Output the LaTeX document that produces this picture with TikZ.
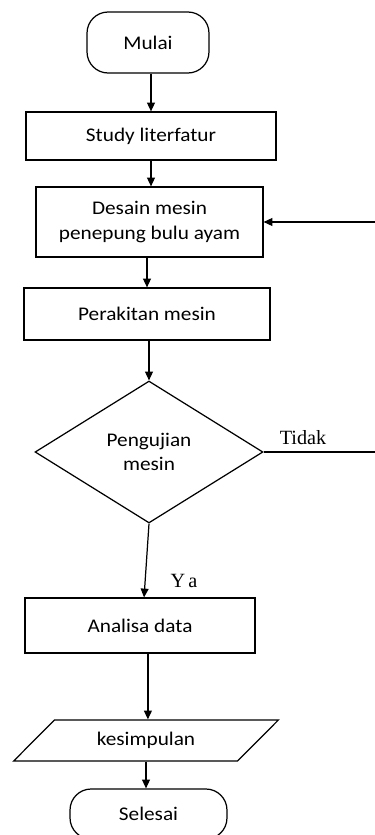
\documentclass[tikz,border=0pt]{standalone}
\usepackage{fontspec}
\setmainfont{Carlito}[FakeStretch=1.1]
\newfontfamily\tnr{Liberation Serif}
\usepackage{tikz}
\usetikzlibrary{arrows.meta, shapes.geometric}
\tikzset{>={Triangle[length=5pt,width=4.5pt]}}

\begin{document}
\begin{tikzpicture}[x=0.02cm, y=-0.02cm, line width=0.7pt,
    font=\fontsize{11}{14}\selectfont,
    term/.style={draw, rectangle, rounded corners=12pt, inner sep=0pt},
    proc/.style={draw, rectangle, align=center, inner sep=0pt},
    dec/.style={draw, diamond, align=center, inner sep=0pt},
    io/.style={draw, trapezium, trapezium left angle=37, trapezium right angle=143,
               trapezium stretches=true, inner sep=0pt},
    lbl/.style={font=\tnr\fontsize{11.5}{13}\selectfont}]

            \useasboundingbox (0,0) rectangle (375,835);

            \node[term, minimum width=2.44cm, minimum height=1.22cm] (M) at (148,42.5) {Mulai};
            \node[proc, minimum width=5cm, minimum height=0.96cm] (L) at (151,136) {Study literfatur};
            \node[proc, minimum width=4.54cm, minimum height=1.4cm] (D) at (149.5,222) {Desain mesin\\penepung bulu ayam};
            \node[proc, minimum width=4.92cm, minimum height=1.04cm] (R) at (147,314) {Perakitan mesin};
            \node[dec, minimum width=4.56cm, minimum height=2.84cm] (U) at (149,452) {Pengujian\\mesin};
            \node[proc, minimum width=4.6cm, minimum height=1.1cm] (A) at (140,625.5) {Analisa data};
            \node[io, minimum width=5.32cm, minimum height=0.82cm] (K) at (146,740.5) {kesimpulan};
            \node[term, minimum width=3.14cm, minimum height=1cm] (S) at (148.5,814) {Selesai};

            \coordinate (T1) at (375,452);
            \coordinate (T2) at (375,222);

            \draw [->] (M.south -| L)--(L);
            \draw [->] (L.south -| L)--(L.south |- D.north);
            \draw [->] (D.south -| R)--(R);
            \draw [->] (R.south -| U)--(U);
            \draw [->] (U.south)--([xshift=2.3pt]A.north);
            \draw [->] ([xshift=4.5pt]A.south)--([xshift=4.5pt]A.south |- K.north);
            \draw [->] (K.south)--(K.south |- S.north);
            \draw (U.east)--(T1);
            \draw [->] (T2)--(D.east);

            \node[lbl] (TD) at (303,438) {Tidak};
            \node[lbl] (YA) at (184,581) {Y\,a};
            \end{tikzpicture}
\end{document}
